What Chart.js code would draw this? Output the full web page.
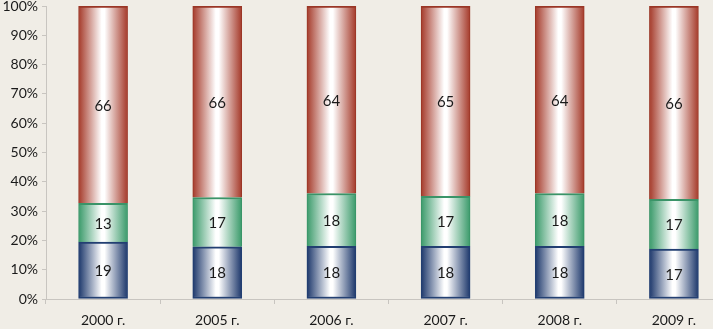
<!DOCTYPE html>
<html><head><meta charset="utf-8">
<script src="https://cdn.jsdelivr.net/npm/chart.js@4"></script>
<style>
html,body{margin:0;padding:0;background:#f0ede6;overflow:hidden;width:713px;height:329px;}
#wrap{position:absolute;left:0;top:0;width:736px;height:329px;}
</style></head><body>
<div id="wrap"><canvas id="c" width="736" height="329"></canvas></div>
<script>
const categories = ['2000 г.','2005 г.','2006 г.','2007 г.','2008 г.','2009 г.'];
const seriesBlue  = [19,18,18,18,18,17];
const seriesGreen = [13,17,18,17,18,17];
const seriesRed   = [66,66,64,65,64,66];
const yTicks = [0,10,20,30,40,50,60,70,80,90,100];

const raw = [seriesBlue, seriesGreen, seriesRed];
const totals = categories.map((_,i)=>raw.reduce((s,a)=>s+a[i],0));
const pct = raw.map(a=>a.map((v,i)=>v/totals[i]*100));

const BAR_W = 49;
function grad(dark){
  return ctx=>{
    const c = ctx.chart; const xs = c.scales && c.scales.x;
    if(!xs || ctx.dataIndex===undefined) return dark;
    const x = xs.getPixelForValue(ctx.dataIndex);
    if(!isFinite(x)) return dark;
    const g = c.ctx.createLinearGradient(x-BAR_W/2,0,x+BAR_W/2,0);
    g.addColorStop(0,dark);
    g.addColorStop(0.47,'#ffffff');
    g.addColorStop(0.53,'#ffffff');
    g.addColorStop(1,dark);
    return g;
  };
}
const colors = [['#1c376b','#223f72'],['#3a9a6a','#3a9468'],['#a53a2a','#9a3626']];

const labelPlugin = {
  id:'vals',
  afterDatasetsDraw(chart){
    const ctx = chart.ctx;
    ctx.save();
    ctx.font = '15px Lato, "Open Sans", sans-serif';
    ctx.fillStyle = '#1a1a1a';
    ctx.textAlign='center'; ctx.textBaseline='middle';
    chart.data.datasets.forEach((ds,di)=>{
      const meta = chart.getDatasetMeta(di);
      meta.data.forEach((el,i)=>{
        const y = (el.y + el.base)/2;
        ctx.fillText(String(raw[di][i]), el.x, y+1);
      });
    });
    ctx.restore();
  }
};

new Chart(document.getElementById('c'),{
  type:'bar',
  data:{labels:categories,datasets:pct.map((d,i)=>({
    data:d,
    backgroundColor:grad(colors[i][0]),
    borderColor:colors[i][1],
    borderWidth:{top:2,left:1,right:1,bottom:i===0?2:0},
    borderSkipped:false,
    barThickness:BAR_W
  }))},
  options:{
    responsive:false,animation:false,
    layout:{padding:{top:6,right:5,left:0,bottom:0}},
    plugins:{legend:{display:false},tooltip:{enabled:false}},
    scales:{
      x:{stacked:true,
        afterFit(s){s.height=30;},
        grid:{display:true,drawOnChartArea:false,offset:true,tickLength:5,color:'#c8c5c0'},
        border:{color:'#c8c5c0'},
        ticks:{color:'#1a1a1a',font:{family:'Lato, "Open Sans", sans-serif',size:14},padding:8}
      },
      y:{stacked:true,min:0,max:100,
        afterFit(s){s.width=46;s.paddingTop=0;s.paddingBottom=0;},
        afterBuildTicks(s){s.ticks=yTicks.map(v=>({value:v}));},
        grid:{display:true,drawOnChartArea:false,tickLength:4,color:'#c8c5c0'},
        border:{color:'#c8c5c0'},
        ticks:{color:'#1a1a1a',font:{family:'Lato, "Open Sans", sans-serif',size:14},padding:4,
          callback:v=>v+'%'}
      }
    }
  },
  plugins:[labelPlugin]
});
</script></body></html>
